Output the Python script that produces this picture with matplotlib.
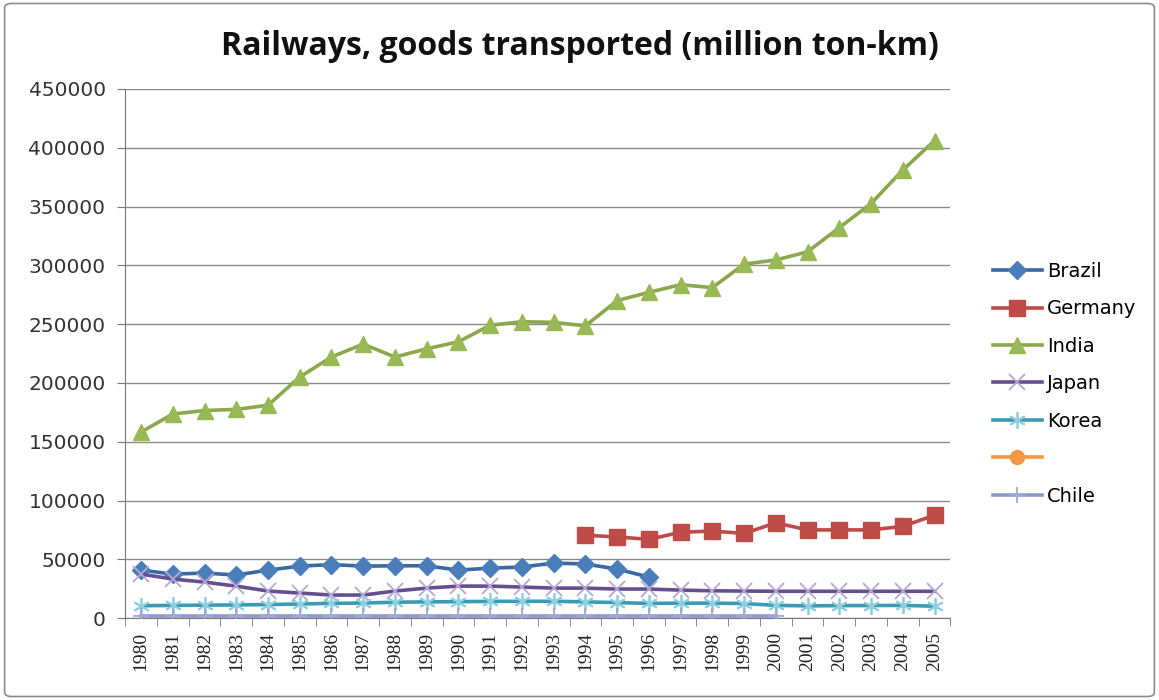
import numpy as np
import matplotlib
matplotlib.use("Agg")
import matplotlib.pyplot as plt
from matplotlib.patches import FancyBboxPatch

years = [str(y) for y in range(1980, 2006)]

brazil = [40800, 37400, 38300, 36600, 40800, 44200, 45500, 44200, 44500, 44500,
          40800, 42500, 43400, 46800, 46000, 41700, 34900] + [None] * 9
germany = [None] * 14 + [70500, 69000, 67000, 73000, 74000, 72000, 81000,
                         75000, 75000, 75000, 78000, 87500]
india = [158200, 173500, 176500, 177500, 181000, 205000, 222000, 233000, 222000, 229000,
         235000, 249000, 252000, 251500, 248500, 270000, 277000, 283500, 281000, 301000,
         304500, 311500, 332000, 352500, 381000, 406000]
japan = [37400, 33200, 30600, 27200, 23000, 21300, 19600, 19600, 23000, 25500,
         27200, 27200, 26400, 25500, 25500, 24700, 24700, 23800, 23200, 23000,
         22800, 22800, 22800, 22800, 22800, 22800]
korea = [10500, 10800, 11000, 11200, 11500, 12000, 12500, 12800, 13500, 13800,
         14000, 14200, 14300, 14300, 13800, 13200, 12500, 12700, 12700, 12400,
         10800, 10400, 10600, 10700, 10800, 10100]
unnamed = [None] * 26
chile = [1800] * 21 + [None] * 5

series = [
    ("Brazil", brazil, "#4A7EBB", "#3A68A2", "D", 9),
    ("Germany", germany, "#BE4B48", "#BE4B48", "s", 11),
    ("India", india, "#98B954", "#8BA84C", "^", 11),
    ("Japan", japan, "#B7A6D6", "#65508F", "x", 12),
    ("Korea", korea, "#8FCFE0", "#3A9BB5", (6, 2, 0), 12),
    ("", unnamed, "#F79646", "#F79646", "o", 10),
    ("Chile", chile, "#9DA8D8", "#8C98CC", "+", 12),
]


def to_arr(vals):
    return np.array([np.nan if v is None else v for v in vals], dtype=float)


fig = plt.figure(figsize=(11.59, 7.0), dpi=100)
fig.patches.append(FancyBboxPatch((0.004, 0.005), 0.992, 0.99,
                                  boxstyle="round,pad=0,rounding_size=0.006",
                                  transform=fig.transFigure, fill=False,
                                  edgecolor="#8c8c8c", linewidth=1.2))

ax = fig.add_axes([0.108, 0.117, 0.712, 0.756])
x = np.arange(len(years))

handles = []
labels = []
for name, vals, mcol, lcol, mk, ms in series:
    y = to_arr(vals)
    filled = mk in ("D", "s", "^", "o")
    ln, = ax.plot(x, y, color=lcol, linewidth=2.6, marker=mk, markersize=ms,
                  markerfacecolor=mcol if filled else "none",
                  markeredgecolor=mcol, markeredgewidth=1.0 if filled else 1.3,
                  zorder=3)
    handles.append(ln)
    labels.append(name)

ax.set_xlim(-0.5, len(years) - 0.5)
ax.set_ylim(0, 450000)
ax.set_yticks(range(0, 450001, 50000))
ax.set_yticklabels([str(v) for v in range(0, 450001, 50000)],
                   fontsize=14.5, color="#333333")
ax.set_xticks(x)
ax.set_xticklabels(years, rotation=90, fontsize=14, family="Liberation Serif",
                   color="#222222")
ax.set_xticks(np.arange(-0.5, len(years)), minor=True)
ax.tick_params(axis="x", which="major", length=0, pad=10)
ax.tick_params(axis="x", which="minor", length=6, color="#777777")
ax.tick_params(axis="y", length=6, color="#777777", pad=8)

ax.grid(axis="y", color="#8a8a8a", linewidth=1.0)
ax.set_axisbelow(True)
for side in ("top", "right"):
    ax.spines[side].set_visible(False)
ax.spines["left"].set_color("#777777")
ax.spines["bottom"].set_color("#777777")

fig.text(0.5, 0.933, "Railways, goods transported (million ton-km)",
         ha="center", va="center", fontsize=23, fontweight="bold",
         family="Open Sans", color="#111111")

fig.legend(handles, labels, loc="upper left", bbox_to_anchor=(0.850, 0.637),
           frameon=False, fontsize=14, handlelength=2.5, handletextpad=0.3,
           labelspacing=0.95, borderaxespad=0)

fig.savefig("out.png", dpi=100)
